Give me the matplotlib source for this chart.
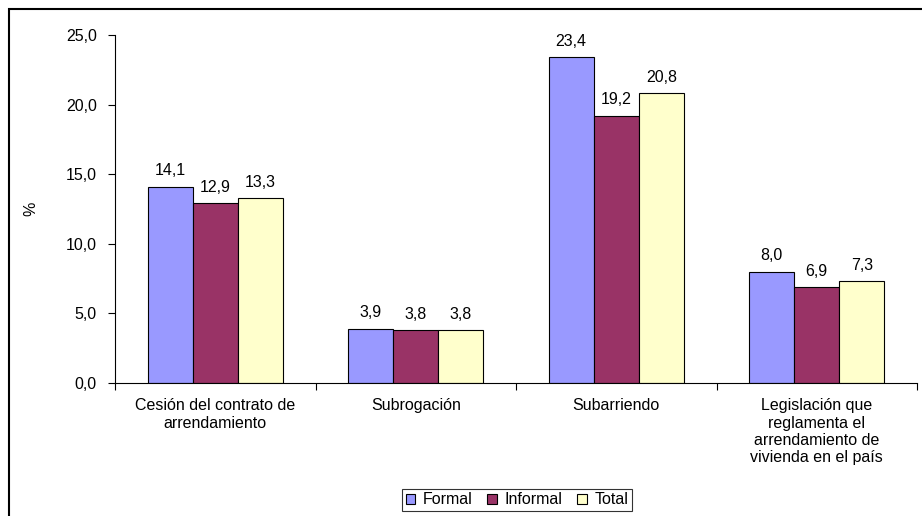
import numpy as np
import matplotlib
matplotlib.use("Agg")
import matplotlib.pyplot as plt
from matplotlib.patches import Rectangle

plt.rcParams['font.family'] = ['Liberation Sans', 'DejaVu Sans']

categorias = ["Cesión del contrato de\narrendamiento",
              "Subrogación",
              "Subarriendo",
              "Legislación que\nreglamenta el\narrendamiento de\nvivienda en el país"]
series = ["Formal", "Informal", "Total"]
formal = [14.1, 3.9, 23.4, 8.0]
informal = [12.9, 3.8, 19.2, 6.9]
total = [13.3, 3.8, 20.8, 7.3]
colores = ["#9999FF", "#993366", "#FFFFCC"]

fs = 11.5

fig = plt.figure(figsize=(9.22, 5.16), dpi=100)
ax = fig.add_axes([115/922, 1 - 383/516, (917-115)/922, (383-35)/516])

# marco exterior del gráfico
fig.patches.append(Rectangle((9/922, -0.1), 1.1, 1 - 9/516 + 0.1,
                             transform=fig.transFigure, fill=False,
                             edgecolor="black", linewidth=1.5))

x = np.arange(len(categorias))
ancho = 0.225
for k, (vals, nombre, c) in enumerate(zip([formal, informal, total], series, colores)):
    pos = x + (k - 1) * ancho
    barras = ax.bar(pos, vals, ancho, color=c, edgecolor="black", linewidth=0.8, label=nombre)
    for b, v in zip(barras, vals):
        ax.text(b.get_x() + b.get_width()/2, v + 0.6, f"{v:.1f}".replace(".", ","),
                ha="center", va="bottom", fontsize=fs)

ax.set_xlim(-0.5, 3.5)
ax.set_ylim(0, 25)
ax.set_yticks(np.arange(0, 26, 5))
ax.set_yticklabels([f"{v:.1f}".replace(".", ",") for v in np.arange(0, 26, 5)], fontsize=fs)
ax.set_xticks(np.arange(-0.5, 4, 1))
ax.set_xticklabels([])
ax.set_xticks(x, minor=True)
ax.set_xticklabels(categorias, minor=True, fontsize=fs, linespacing=1.2)
ax.tick_params(axis="x", which="minor", length=0, pad=11)
ax.tick_params(axis="x", which="major", length=5, direction="out")
ax.tick_params(axis="y", length=5, direction="out", pad=8)
for s in ["top", "right"]:
    ax.spines[s].set_visible(False)
ax.set_ylabel("%", fontsize=fs)
ax.yaxis.set_label_coords(-0.096, 0.5)

leg = fig.legend(loc="center", bbox_to_anchor=(517/922, 1 - 500/516), ncol=3,
                 fontsize=fs, frameon=True, fancybox=False, edgecolor="black",
                 handlelength=0.6, handleheight=0.6, handletextpad=0.5,
                 columnspacing=0.9, borderpad=0.25)
leg.get_frame().set_linewidth(0.8)

fig.savefig("out.png", dpi=100)
